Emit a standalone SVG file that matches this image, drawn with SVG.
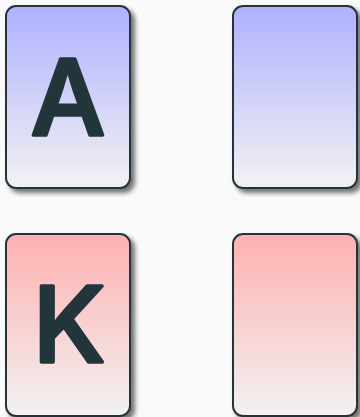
<svg xmlns="http://www.w3.org/2000/svg" width="360" height="417" viewBox="0 0 360 417">
<defs>
<linearGradient id="gb" x1="0" y1="0" x2="0" y2="1">
<stop offset="0" stop-color="#b0b0ff"/>
<stop offset="1" stop-color="#f2f2f2"/>
</linearGradient>
<linearGradient id="gr" x1="0" y1="0" x2="0" y2="1">
<stop offset="0" stop-color="#ffb0b0"/>
<stop offset="1" stop-color="#f2f2f2"/>
</linearGradient>
<filter id="sh" x="-20%" y="-20%" width="140%" height="140%">
<feGaussianBlur in="SourceAlpha" stdDeviation="2.5"/>
<feOffset dx="4" dy="4" result="b"/>
<feComponentTransfer><feFuncA type="linear" slope="0.55"/></feComponentTransfer>
<feMerge><feMergeNode/><feMergeNode in="SourceGraphic"/></feMerge>
</filter>
</defs>
<style>
.card{stroke:#22363a;stroke-width:2;}
.lbl{font-family:"Inter",sans-serif;font-weight:500;font-size:105px;fill:#22363a;stroke:#22363a;stroke-width:3.5;stroke-linejoin:round;text-anchor:middle;}
</style>
<rect width="360" height="417" fill="#fafafa"/>
<g id="card-a" filter="url(#sh)">
<rect class="card" x="6" y="6" width="124" height="182" rx="10" fill="url(#gb)"/>
<text class="lbl" x="68" y="135">A</text>
</g>
<g id="card-blue" filter="url(#sh)">
<rect class="card" x="233" y="6" width="124" height="182" rx="10" fill="url(#gb)"/>
</g>
<g id="card-k" filter="url(#sh)">
<rect class="card" x="6" y="234" width="124" height="182" rx="10" fill="url(#gr)"/>
<text class="lbl" x="69" y="362">K</text>
</g>
<g id="card-red" filter="url(#sh)">
<rect class="card" x="233" y="234" width="124" height="182" rx="10" fill="url(#gr)"/>
</g>
</svg>
